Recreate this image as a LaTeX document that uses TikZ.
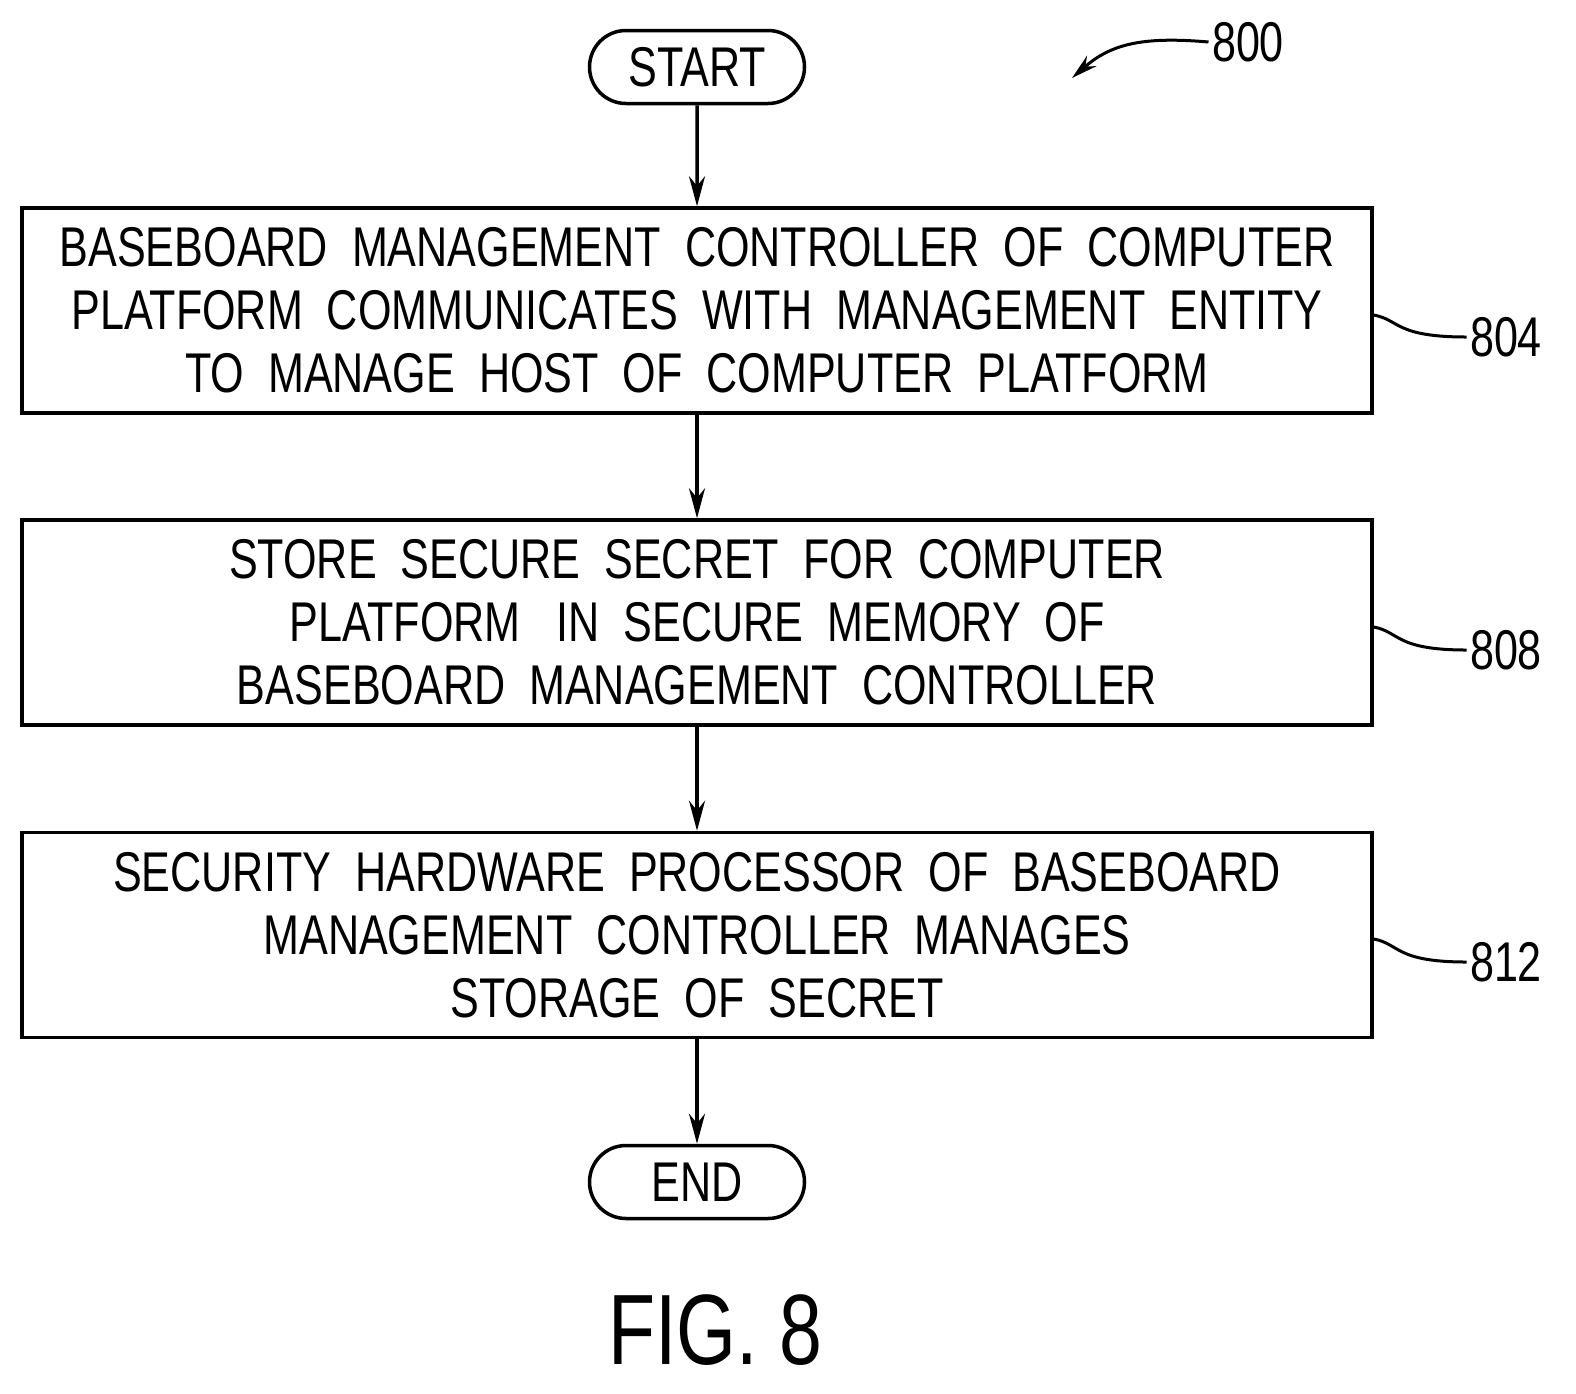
\documentclass[tikz,border=0pt]{standalone}
\usepackage{fontspec}
\setmainfont{Liberation Sans}[FakeStretch=0.77]
\usetikzlibrary{arrows.meta,shapes.misc}
\begin{document}
\begin{tikzpicture}[x=1pt,y=-1pt,
  box/.style={draw,line width=3.5pt,minimum width=1350pt,minimum height=205pt,align=center,font=\fontsize{56}{63}\selectfont,inner sep=0pt},
  term/.style={draw,line width=3.5pt,rounded rectangle,minimum width=215pt,minimum height=73pt,font=\fontsize{56}{63}\selectfont,inner sep=0pt},
  arr/.style={line width=3.5pt,-{Stealth[length=30pt,width=16pt]}},
  lead/.style={line width=3pt},
  lbl/.style={font=\fontsize{56}{63}\selectfont}]
\useasboundingbox (0,0) rectangle (1576,1393);
\node[term] (start) at (697,67) {START};
\node[box] (b1) at (697,310.5) {BASEBOARD\ \ MANAGEMENT\ \ CONTROLLER\ \ OF\ \ COMPUTER\\PLATFORM\ \ COMMUNICATES\ \ WITH\ \ MANAGEMENT\ \ ENTITY\\TO\ \ MANAGE\ \ HOST\ \ OF\ \ COMPUTER\ \ PLATFORM};
\node[box] (b2) at (697,622.5) {STORE\ \ SECURE\ \ SECRET\ \ FOR\ \ COMPUTER\\PLATFORM\ \ \ IN\ \ SECURE\ \ MEMORY\ \ OF\\BASEBOARD\ \ MANAGEMENT\ \ CONTROLLER};
\node[box] (b3) at (697,935) {SECURITY\ \ HARDWARE\ \ PROCESSOR\ \ OF\ \ BASEBOARD\\MANAGEMENT\ \ CONTROLLER\ \ MANAGES\\STORAGE\ \ OF\ \ SECRET};
\node[term] (end) at (697,1182) {END};
\draw[arr] (start) -- (b1);
\draw[arr] (b1) -- (b2);
\draw[arr] (b2) -- (b3);
\draw[arr] (b3) -- (end);
\node[lbl] (l804) at (1506,337) {804};
\node[lbl] (l808) at (1506,650) {808};
\node[lbl] (l812) at (1506,962) {812};
\draw[lead] (b1.east |- 0,315) .. controls (1400,320) and (1395,337) .. (l804.west);
\draw[lead] (b2.east |- 0,627) .. controls (1400,632) and (1395,650) .. (l808.west);
\draw[lead] (b3.east |- 0,939) .. controls (1400,944) and (1395,962) .. (l812.west);
\node[lbl] (l800) at (1248,42) {800};
\coordinate (c800) at (1072,78);
\draw[lead,-{Stealth[length=26pt,width=14pt]}] (l800.west) .. controls (1140,36) and (1110,45) .. (c800);
\node[font=\fontsize{100}{110}\selectfont] (fig) at (715,1330) {FIG. 8};
\end{tikzpicture}
\end{document}
